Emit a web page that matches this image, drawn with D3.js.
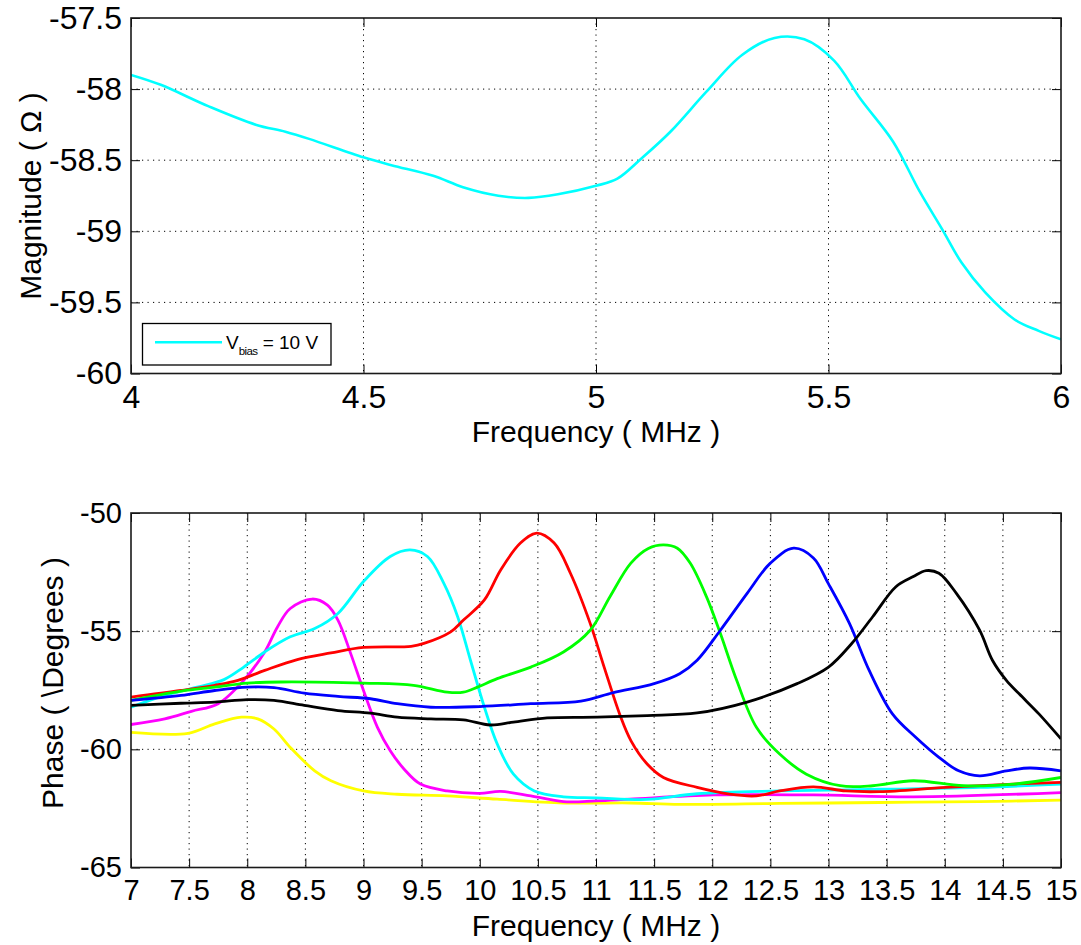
<!DOCTYPE html>
<html>
<head>
<meta charset="utf-8">
<script src="https://cdn.jsdelivr.net/npm/d3@7"></script>
<style>
  body { margin: 0; background: #fff; }
  svg { display: block; }
  text { font-family: "Liberation Sans", Arial, Helvetica, sans-serif; fill: #000; }
</style>
</head>
<body>
<svg id="chart" width="1081" height="945"></svg>
<script>
// ---- Magnitude panel data ----
const magXTicks = [4, 4.5, 5, 5.5, 6];
const magYTicks = [-60, -59.5, -59, -58.5, -58, -57.5];
const magFreq  = [4.0, 4.064, 4.166, 4.268, 4.332, 4.383, 4.5, 4.56, 4.65, 4.714, 4.79, 4.855, 4.918, 5.0, 5.046, 5.097, 5.16, 5.237, 5.314, 5.384, 5.448, 5.512, 5.569, 5.639, 5.696, 5.747, 5.786, 5.837, 5.90, 5.952, 6.0];
const magValue = [-57.90, -57.97, -58.12, -58.25, -58.30, -58.35, -58.48, -58.535, -58.61, -58.69, -58.75, -58.765, -58.74, -58.68, -58.63, -58.49, -58.30, -58.02, -57.76, -57.64, -57.65, -57.80, -58.07, -58.37, -58.72, -59.00, -59.22, -59.43, -59.62, -59.70, -59.76];
const magLegend = { main: "V", sub: "bias", rest: " = 10 V" };

// ---- Phase panel data ----
const phaseXTicks = [7, 7.5, 8, 8.5, 9, 9.5, 10, 10.5, 11, 11.5, 12, 12.5, 13, 13.5, 14, 14.5, 15];
const phaseYTicks = [-65, -60, -55, -50];

const freqYellow  = [7.0, 7.49, 7.72, 7.95, 8.09, 8.23, 8.37, 8.58, 8.72, 9.0, 9.29, 9.72, 10.15, 10.72, 11.3, 11.72, 12.58, 13.44, 14.3, 15.0];
const phaseYellow = [-59.28, -59.32, -58.92, -58.64, -58.71, -59.14, -59.92, -60.91, -61.33, -61.76, -61.90, -61.97, -62.11, -62.27, -62.27, -62.33, -62.29, -62.25, -62.21, -62.15];

const freqMagenta  = [7.0, 7.29, 7.52, 7.75, 7.97, 8.15, 8.26, 8.37, 8.56, 8.69, 8.78, 8.89, 9.0, 9.12, 9.23, 9.35, 9.49, 9.72, 10.0, 10.18, 10.44, 10.72, 11.0, 11.29, 12.01, 12.87, 13.73, 15.0];
const phaseMagenta = [-58.95, -58.71, -58.39, -58.07, -57.08, -55.88, -54.82, -54.04, -53.64, -53.90, -54.53, -55.95, -57.51, -59.07, -60.06, -60.84, -61.47, -61.76, -61.86, -61.78, -61.97, -62.21, -62.18, -62.11, -61.93, -61.93, -62.01, -61.83];

const freqCyan  = [7.0, 7.29, 7.57, 7.8, 7.97, 8.15, 8.37, 8.58, 8.78, 9.0, 9.23, 9.4, 9.55, 9.69, 9.81, 9.92, 10.04, 10.15, 10.29, 10.47, 10.72, 11.0, 11.44, 11.87, 12.58, 13.44, 14.3, 15.0];
const phaseCyan = [-58.22, -57.72, -57.37, -57.05, -56.52, -55.88, -55.24, -54.89, -54.25, -52.90, -51.84, -51.56, -51.84, -52.97, -54.39, -56.23, -58.22, -59.77, -61.05, -61.76, -62.01, -62.05, -62.12, -61.88, -61.76, -61.69, -61.61, -61.47];

const freqRed  = [7.0, 7.43, 7.72, 7.92, 8.15, 8.43, 8.72, 9.0, 9.41, 9.52, 9.75, 9.86, 10.04, 10.18, 10.35, 10.49, 10.64, 10.78, 10.95, 11.07, 11.21, 11.3, 11.44, 11.58, 11.87, 12.15, 12.38, 12.58, 12.87, 13.15, 13.44, 14.01, 14.59, 15.0];
const phaseRed = [-57.79, -57.51, -57.29, -57.08, -56.66, -56.20, -55.92, -55.69, -55.64, -55.52, -55.03, -54.53, -53.68, -52.41, -51.27, -50.85, -51.27, -52.55, -54.67, -56.52, -58.60, -59.63, -60.62, -61.19, -61.61, -61.90, -61.97, -61.76, -61.59, -61.76, -61.79, -61.61, -61.47, -61.40];

const freqGreen  = [7.0, 7.43, 7.72, 8.0, 8.29, 9.0, 9.43, 9.72, 9.86, 9.98, 10.15, 10.44, 10.72, 10.95, 11.12, 11.3, 11.45, 11.58, 11.7, 11.81, 11.95, 12.07, 12.21, 12.38, 12.58, 12.81, 13.1, 13.38, 13.73, 14.16, 14.59, 15.0];
const phaseGreen = [-57.93, -57.54, -57.37, -57.20, -57.15, -57.20, -57.29, -57.58, -57.58, -57.37, -57.01, -56.52, -55.88, -54.96, -53.54, -52.12, -51.50, -51.35, -51.49, -52.12, -53.54, -55.10, -57.08, -59.07, -60.20, -61.05, -61.54, -61.54, -61.33, -61.54, -61.47, -61.19];

const freqBlue  = [7.0, 7.43, 7.72, 8.0, 8.23, 8.49, 8.78, 9.06, 9.29, 9.58, 10.0, 10.44, 10.87, 11.15, 11.5, 11.72, 11.87, 12.07, 12.3, 12.5, 12.7, 12.87, 13.0, 13.18, 13.35, 13.55, 13.75, 13.95, 14.12, 14.3, 14.53, 14.73, 15.0];
const phaseBlue = [-57.93, -57.72, -57.51, -57.37, -57.39, -57.62, -57.76, -57.86, -58.07, -58.22, -58.19, -58.07, -57.96, -57.60, -57.22, -56.80, -56.23, -54.96, -53.40, -52.12, -51.49, -51.90, -53.00, -54.67, -56.66, -58.50, -59.49, -60.34, -60.91, -61.12, -60.91, -60.79, -60.91];

const freqBlack  = [7.0, 7.43, 7.72, 8.0, 8.23, 8.49, 8.78, 9.06, 9.29, 9.58, 9.86, 10.09, 10.29, 10.58, 11.01, 11.44, 11.87, 12.3, 12.73, 13.0, 13.2, 13.38, 13.58, 13.73, 13.84, 13.95, 14.1, 14.3, 14.41, 14.53, 14.64, 14.81, 15.0];
const phaseBlack = [-58.14, -58.05, -58.00, -57.90, -57.93, -58.14, -58.36, -58.47, -58.64, -58.71, -58.75, -58.97, -58.85, -58.67, -58.64, -58.57, -58.46, -58.00, -57.22, -56.52, -55.52, -54.39, -53.12, -52.69, -52.44, -52.55, -53.40, -54.96, -56.23, -57.08, -57.65, -58.50, -59.56];

const phaseSeries = [
  { color: "#ffff00", freq: freqYellow,  phase: phaseYellow },
  { color: "#ff00ff", freq: freqMagenta, phase: phaseMagenta },
  { color: "#00ffff", freq: freqCyan,    phase: phaseCyan },
  { color: "#ff0000", freq: freqRed,     phase: phaseRed },
  { color: "#00ff00", freq: freqGreen,   phase: phaseGreen },
  { color: "#0000ff", freq: freqBlue,    phase: phaseBlue },
  { color: "#000000", freq: freqBlack,   phase: phaseBlack }
];

// ---- Layout ----
const svg = d3.select("#chart");
const TICK = 9;
const plain = d => String(d);   // hyphen-minus, as in the axis labels

function drawPanel(cfg) {
  const { left, right, top, bottom, xDomain, yDomain, xTicks, yTicks, xLabel, yLabel,
          yLabelX, yLabelY, tickFont, id } = cfg;
  const x = d3.scaleLinear().domain(xDomain).range([left, right]);
  const y = d3.scaleLinear().domain(yDomain).range([bottom, top]);
  const g = svg.append("g");

  // dotted grid
  const grid = g.append("g").attr("stroke", "#000").attr("stroke-width", 1)
    .attr("stroke-dasharray", "1.2,4.3").attr("fill", "none");
  xTicks.filter(v => v !== xDomain[0] && v !== xDomain[1]).forEach(v => {
    grid.append("line").attr("x1", x(v)).attr("x2", x(v)).attr("y1", top).attr("y2", bottom);
  });
  yTicks.filter(v => v !== yDomain[0] && v !== yDomain[1]).forEach(v => {
    grid.append("line").attr("x1", left).attr("x2", right).attr("y1", y(v)).attr("y2", y(v));
  });

  // curves clipped to the plotting box
  g.append("clipPath").attr("id", id).append("rect")
    .attr("x", left).attr("y", top).attr("width", right - left).attr("height", bottom - top);
  const curves = g.append("g").attr("clip-path", `url(#${id})`);

  // axes with inward ticks on all four sides
  const styleAxis = sel => {
    sel.select(".domain").remove();
    sel.selectAll(".tick line").attr("stroke", "#000").attr("stroke-width", 1);
    sel.selectAll("text").attr("font-size", tickFont).attr("font-family", null).attr("fill", "#000");
  };
  g.append("g").attr("transform", `translate(0,${bottom})`)
    .call(d3.axisBottom(x).tickValues(xTicks).tickFormat(plain).tickSizeInner(-TICK).tickSizeOuter(0).tickPadding(12))
    .call(styleAxis);
  g.append("g").attr("transform", `translate(0,${top})`)
    .call(d3.axisTop(x).tickValues(xTicks).tickFormat("").tickSizeInner(-TICK).tickSizeOuter(0))
    .call(styleAxis);
  g.append("g").attr("transform", `translate(${left},0)`)
    .call(d3.axisLeft(y).tickValues(yTicks).tickFormat(plain).tickSizeInner(-TICK).tickSizeOuter(0).tickPadding(9))
    .call(styleAxis);
  g.append("g").attr("transform", `translate(${right},0)`)
    .call(d3.axisRight(y).tickValues(yTicks).tickFormat("").tickSizeInner(-TICK).tickSizeOuter(0))
    .call(styleAxis);

  // frame
  g.append("rect").attr("x", left).attr("y", top).attr("width", right - left).attr("height", bottom - top)
    .attr("fill", "none").attr("stroke", "#1a1a1a").attr("stroke-width", 1.6);

  // axis titles
  g.append("text").attr("x", (left + right) / 2).attr("y", bottom + 68.5)
    .attr("text-anchor", "middle").attr("font-size", 30).text(xLabel);
  g.append("text").attr("transform", `translate(${yLabelX},${yLabelY}) rotate(-90)`)
    .attr("text-anchor", "middle").attr("dy", "0.35em").attr("font-size", 30).text(yLabel);

  return { x, y, curves, g };
}

const line = (x, y) => d3.line().x(d => x(d[0])).y(d => y(d[1])).curve(d3.curveCatmullRom.alpha(0.5));

// ---- Magnitude panel ----
const mag = drawPanel({
  id: "clipMag", left: 131, right: 1061, top: 18, bottom: 373.5,
  xDomain: [4, 6], yDomain: [-60, -57.5], xTicks: magXTicks, yTicks: magYTicks,
  xLabel: "Frequency ( MHz )", yLabel: "Magnitude ( \u03A9 )", yLabelX: 30, yLabelY: 196,
  tickFont: 32
});
mag.curves.append("path")
  .datum(magFreq.map((f, i) => [f, magValue[i]]))
  .attr("fill", "none").attr("stroke", "#00ffff").attr("stroke-width", 2.6)
  .attr("stroke-linejoin", "round")
  .attr("d", line(mag.x, mag.y));

// legend
const lg = mag.g.append("g");
lg.append("rect").attr("x", 142.5).attr("y", 323.5).attr("width", 188.5).attr("height", 41.5)
  .attr("fill", "#fff").attr("stroke", "#000").attr("stroke-width", 1.3);
lg.append("line").attr("x1", 155).attr("x2", 222).attr("y1", 342.3).attr("y2", 342.3)
  .attr("stroke", "#00ffff").attr("stroke-width", 2.6);
const lt = lg.append("text").attr("x", 226).attr("y", 349).attr("font-size", 19);
lt.append("tspan").text(magLegend.main);
lt.append("tspan").attr("font-size", 11.5).attr("dy", 6).attr("letter-spacing", -0.6).text(magLegend.sub);
lt.append("tspan").attr("dy", -6).text(magLegend.rest);

// ---- Phase panel ----
const ph = drawPanel({
  id: "clipPhase", left: 131, right: 1061, top: 513, bottom: 867.5,
  xDomain: [7, 15], yDomain: [-65, -50], xTicks: phaseXTicks, yTicks: phaseYTicks,
  xLabel: "Frequency ( MHz )", yLabel: "Phase ( \\Degrees )", yLabelX: 52, yLabelY: 683,
  tickFont: 29
});
ph.curves.selectAll("path.series")
  .data(phaseSeries)
  .join("path")
  .attr("class", "series")
  .attr("fill", "none")
  .attr("stroke", d => d.color)
  .attr("stroke-width", 2.8)
  .attr("stroke-linejoin", "round")
  .attr("d", d => line(ph.x, ph.y)(d.freq.map((f, i) => [f, d.phase[i]])));
</script>
</body>
</html>
